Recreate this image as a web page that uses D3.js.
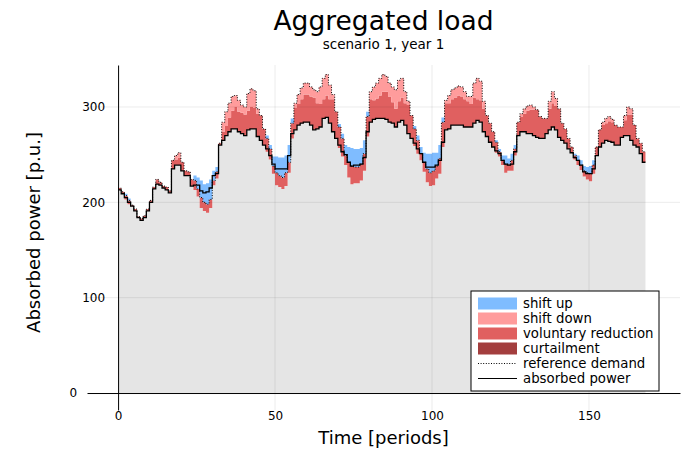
<!DOCTYPE html>
<html>
<head>
<meta charset="utf-8">
<script src="https://cdn.jsdelivr.net/npm/d3@7"></script>
<style>
  body { margin: 0; background: #fff; }
  text { font-family: "DejaVu Sans", sans-serif; }
</style>
</head>
<body>
<svg id="chart"></svg>
<script>
// reference demand (dotted line), read per period
const refDemand = [
  215, 211, 207, 202, 197, 193, 185, 183, 186, 193,
  202, 216, 224, 221, 217, 216, 212, 244, 249, 252,
  242, 233, 232, 224, 223, 214, 205, 200, 198, 203,
  223, 232, 262, 284, 295, 304, 311, 312, 307, 302,
  300, 314, 319, 317, 298, 291, 277, 267, 256, 238,
  231, 228, 226, 231, 242, 283, 304, 313, 320, 325,
  325, 321, 318, 316, 321, 330, 334, 323, 313, 295,
  279, 267, 249, 242, 238, 237, 237, 240, 251, 290,
  316, 321, 325, 330, 334, 332, 325, 321, 318, 328,
  330, 316, 306, 291, 277, 265, 251, 242, 235, 231,
  233, 238, 246, 284, 307, 312, 318, 320, 322, 321,
  316, 311, 311, 325, 330, 327, 306, 291, 283, 274,
  263, 253, 244, 240, 240, 244, 256, 284, 293, 298,
  301, 302, 300, 297, 290, 288, 288, 306, 316, 309,
  298, 283, 277, 267, 258, 249, 244, 239, 233, 231,
  230, 239, 258, 276, 284, 288, 290, 287, 281, 279,
  279, 291, 300, 298, 281, 267, 262, 253
];

// absorbed power (solid line)
const absorbed = [
  213, 209, 205, 200, 196, 191, 184, 181, 184, 191,
  200, 214, 219, 218, 215, 213, 210, 235, 239, 239,
  233, 228, 228, 217, 218, 218, 212, 210, 211, 215,
  228, 230, 260, 265, 270, 274, 277, 277, 274, 272,
  270, 276, 277, 277, 269, 265, 260, 256, 249, 240,
  235, 235, 235, 235, 249, 272, 276, 281, 283, 284,
  284, 281, 276, 277, 279, 288, 289, 283, 274, 267,
  260, 253, 250, 242, 238, 239, 239, 240, 247, 274,
  284, 287, 288, 288, 288, 287, 284, 283, 279, 284,
  286, 281, 272, 267, 262, 256, 251, 242, 237, 237,
  237, 239, 244, 263, 276, 277, 281, 281, 281, 281,
  279, 279, 279, 283, 286, 284, 274, 269, 263, 258,
  254, 251, 244, 240, 239, 240, 253, 270, 274, 274,
  272, 272, 270, 268, 267, 267, 272, 276, 279, 276,
  268, 265, 262, 256, 252, 247, 244, 239, 232, 230,
  230, 235, 249, 258, 262, 265, 264, 263, 260, 260,
  268, 270, 270, 265, 260, 258, 251, 242
];

const shiftUp = [
  0, 0, 2, 2, 0, 0, 0, 0, 0, 0,
  0, 0, 0, 0, 0, 0, 0, 0, 0, 0,
  0, 0, 0, 0, 5, 12, 18, 19, 22, 21,
  10, 5, 0, 0, 0, 0, 0, 0, 0, 0,
  0, 0, 0, 0, 0, 0, 0, 3, 4, 10,
  17, 19, 21, 18, 18, 5, 0, 0, 0, 0,
  0, 0, 0, 0, 0, 0, 0, 0, 0, 0,
  3, 5, 11, 16, 19, 19, 19, 17, 14, 5,
  0, 0, 0, 0, 0, 0, 0, 0, 0, 0,
  0, 0, 0, 0, 3, 5, 7, 10, 16, 20,
  19, 14, 14, 5, 0, 0, 0, 0, 0, 0,
  0, 0, 0, 0, 0, 0, 0, 0, 0, 0,
  2, 3, 5, 9, 6, 7, 4, 0, 0, 0,
  0, 0, 0, 0, 0, 0, 0, 0, 0, 0,
  0, 0, 0, 0, 0, 2, 5, 5, 5, 6,
  8, 5, 0, 0, 0, 0, 0, 0, 0, 0,
  0, 0, 0, 0, 0, 0, 0, 0
];

const shiftDown = [
  0, 0, 0, 0, 0, 0, 0, 0, 0, 0,
  0, 0, 0, 0, 0, 0, 0, 0, 4, 5,
  0, 0, 0, 0, 0, 0, 0, 0, 0, 0,
  0, 0, 0, 10, 15, 15, 15, 12, 12, 8,
  8, 18, 19, 18, 5, 0, 0, 0, 0, 0,
  0, 0, 0, 0, 0, 0, 5, 10, 12, 12,
  12, 10, 8, 12, 18, 22, 22, 15, 5, 0,
  0, 0, 0, 0, 0, 0, 0, 0, 0, 0,
  8, 14, 16, 18, 18, 16, 14, 16, 20, 22,
  20, 12, 4, 0, 0, 0, 0, 0, 0, 0,
  0, 0, 0, 0, 3, 8, 10, 10, 10, 10,
  8, 5, 8, 15, 22, 20, 8, 0, 0, 0,
  0, 0, 0, 0, 0, 0, 0, 0, 3, 5,
  5, 5, 3, 0, 0, 0, 0, 8, 12, 8,
  0, 0, 0, 0, 0, 0, 0, 0, 0, 0,
  0, 0, 0, 0, 3, 5, 5, 3, 0, 0,
  0, 5, 8, 6, 0, 0, 0, 0
];

// no curtailment in this scenario
const curtailment = new Array(168).fill(0);

const xTicks = [0, 50, 100, 150];
const yTicks = [0, 100, 200, 300];

const legendItems = [
  { label: "shift up", color: "#7fbcff", kind: "patch" },
  { label: "shift down", color: "#ff9c9c", kind: "patch" },
  { label: "voluntary reduction", color: "#e06060", kind: "patch" },
  { label: "curtailment", color: "#a33e3e", kind: "patch" },
  { label: "reference demand", kind: "dotted" },
  { label: "absorbed power", kind: "solid" }
];

const width = 682, height = 450;
const plot = { left: 87, right: 680, top: 65, bottom: 410 };

const svg = d3.select("#chart")
  .attr("width", width)
  .attr("height", height);

const x = d3.scaleLinear()
  .domain([-9.9, 179])
  .range([plot.left, plot.right]);

const y = d3.scaleLinear()
  .domain([-17.8, 344])
  .range([plot.bottom, plot.top]);

// one row per period, plus a closing row so the last step has width
let rows = refDemand.map((r, i) => {
  let up = shiftUp[i], down = shiftDown[i], cu = curtailment[i];
  let base = absorbed[i] - up;
  return {
    t: i,
    ref: r,
    abs: absorbed[i],
    base: base,
    curtTop: base + cu,
    volTop: Math.max(base + cu, r - down),
    up: r + up
  };
});
rows.push(Object.assign({}, rows[rows.length - 1], { t: rows.length }));

// grid
const grid = svg.append("g");
grid.selectAll(".gx")
  .data(xTicks.filter(d => d != 0))
  .join("line")
    .attr("x1", d => x(d)).attr("x2", d => x(d))
    .attr("y1", plot.top).attr("y2", plot.bottom)
    .attr("stroke", "#000").attr("stroke-opacity", 0.1).attr("stroke-width", 0.8);

const area = (lo, hi) => d3.area()
  .curve(d3.curveStepAfter)
  .x(d => x(d.t))
  .y0(d => y(lo(d)))
  .y1(d => y(hi(d)));

const layers = [
  { lo: d => 0, hi: d => d.base, color: "#e5e5e5" },
  { lo: d => d.base, hi: d => d.curtTop, color: "#a33e3e" },
  { lo: d => d.curtTop, hi: d => d.volTop, color: "#e06060" },
  { lo: d => d.volTop, hi: d => d.ref, color: "#ff9c9c" },
  { lo: d => d.ref, hi: d => d.up, color: "#7fbcff" }
];

svg.append("g").selectAll("path")
  .data(layers)
  .join("path")
    .attr("d", l => area(l.lo, l.hi)(rows))
    .attr("fill", l => l.color);

grid.raise();
grid.selectAll(".gy")
  .data(yTicks.filter(d => d != 0))
  .join("line")
    .attr("x1", plot.left).attr("x2", plot.right)
    .attr("y1", d => y(d)).attr("y2", d => y(d))
    .attr("stroke", "#000").attr("stroke-opacity", 0.1).attr("stroke-width", 0.8);

const line = key => d3.line()
  .curve(d3.curveStepAfter)
  .x(d => x(d.t))
  .y(d => y(d[key]));

svg.append("path")
  .attr("d", line("ref")(rows))
  .attr("fill", "none")
  .attr("stroke", "#000")
  .attr("stroke-width", 1)
  .attr("stroke-dasharray", "1,1.6");

svg.append("path")
  .attr("d", line("abs")(rows))
  .attr("fill", "none")
  .attr("stroke", "#000")
  .attr("stroke-width", 1.3);

// axes through the origin
const xAxis = d3.axisBottom(x).tickValues(xTicks).tickSize(0).tickPadding(18);
svg.append("g")
  .attr("transform", `translate(0,${y(0)})`)
  .call(xAxis)
  .call(g => g.select(".domain").attr("stroke", "#000").attr("stroke-width", 1))
  .call(g => g.selectAll("text").attr("font-size", 12).attr("fill", "#000")
    .attr("font-family", "DejaVu Sans"));

const yAxis = d3.axisLeft(y).tickValues(yTicks).tickSize(0).tickPadding(13);
svg.append("g")
  .attr("transform", `translate(${x(0)},0)`)
  .call(yAxis)
  .call(g => g.select(".domain").attr("stroke", "#000").attr("stroke-width", 1))
  .call(g => g.selectAll("text").attr("font-size", 12).attr("fill", "#000")
    .attr("font-family", "DejaVu Sans"))
  // the zero label sits left of the horizontal axis
  .call(g => g.selectAll(".tick").filter(d => d == 0).select("text").attr("x", -41));

// titles
svg.append("text")
  .attr("x", (plot.left + plot.right) / 2)
  .attr("y", 30)
  .attr("text-anchor", "middle")
  .style("font-size", "26.5px")
  .text("Aggregated load");

svg.append("text")
  .attr("x", (plot.left + plot.right) / 2)
  .attr("y", 49)
  .attr("text-anchor", "middle")
  .style("font-size", "13.5px")
  .text("scenario 1, year 1");

svg.append("text")
  .attr("x", (plot.left + plot.right) / 2)
  .attr("y", 444)
  .attr("text-anchor", "middle")
  .style("font-size", "18px")
  .text("Time [periods]");

svg.append("text")
  .attr("transform", "rotate(-90)")
  .attr("x", -(plot.top + plot.bottom) / 2 + 5)
  .attr("y", 40)
  .attr("text-anchor", "middle")
  .style("font-size", "18px")
  .text("Absorbed power [p.u.]");

// legend
const lg = svg.append("g").attr("transform", "translate(471,291)");
lg.append("rect")
  .attr("width", 188).attr("height", 100)
  .attr("fill", "#fff").attr("stroke", "#000").attr("stroke-width", 1);

const item = lg.selectAll(".item")
  .data(legendItems)
  .join("g")
    .attr("transform", (d, i) => `translate(0,${12.5 + i * 15})`);

item.filter(d => d.kind == "patch").append("rect")
  .attr("x", 7).attr("y", -6).attr("width", 39).attr("height", 12)
  .attr("fill", d => d.color);

item.filter(d => d.kind != "patch").append("line")
  .attr("x1", 7).attr("x2", 46)
  .attr("stroke", "#000")
  .attr("stroke-width", d => d.kind == "solid" ? 1.2 : 1)
  .attr("stroke-dasharray", d => d.kind == "dotted" ? "1,1.6" : null);

item.append("text")
  .attr("x", 52).attr("y", 4.5)
  .style("font-size", "13.3px")
  .text(d => d.label);
</script>
</body>
</html>
